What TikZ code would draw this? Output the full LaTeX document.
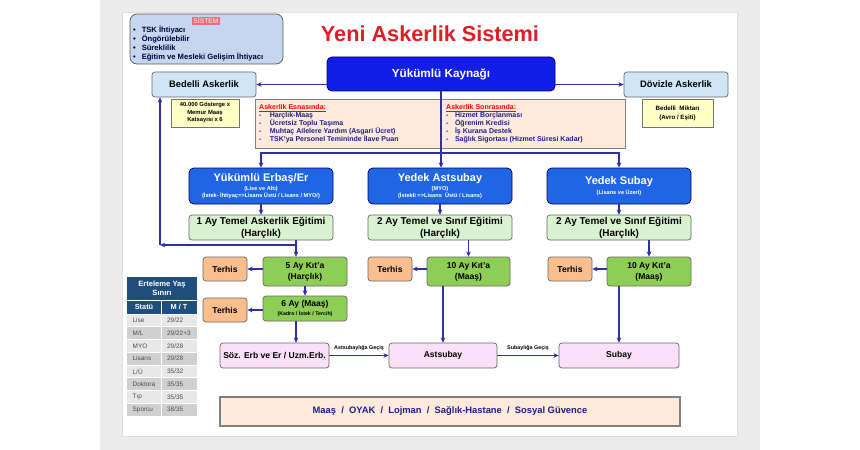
\documentclass[tikz,border=0pt]{standalone}
\usepackage{fontspec}
\setmainfont{Liberation Sans}
\usetikzlibrary{arrows.meta}
\usepackage{xcolor}

\definecolor{baslikkirmizi}{RGB}{226,28,38}
\definecolor{koyumavi}{RGB}{18,30,232}
\definecolor{mavi}{RGB}{32,102,228}
\definecolor{acikmavi}{RGB}{207,230,247}
\definecolor{sistemmavi}{RGB}{198,214,238}
\definecolor{sistemkirmizi}{RGB}{236,108,124}
\definecolor{sari}{RGB}{255,255,198}
\definecolor{seftali}{RGB}{253,234,218}
\definecolor{acikyesil}{RGB}{217,242,208}
\definecolor{yesil}{RGB}{143,206,86}
\definecolor{turuncu}{RGB}{249,190,142}
\definecolor{pembe}{RGB}{251,224,249}
\definecolor{lacivert}{RGB}{31,78,126}
\definecolor{satira}{RGB}{232,232,232}
\definecolor{satirb}{RGB}{208,208,208}
\definecolor{okrengi}{RGB}{48,48,160}
\definecolor{yazimavi}{RGB}{30,30,140}
\definecolor{cerceve}{RGB}{236,236,236}

\tikzset{
  wh/.style 2 args={minimum width=#1*0.03cm, minimum height=#2*0.03cm},
  kutu/.style={draw=black!60, line width=0.6pt, rounded corners=2.5pt, align=center, inner sep=0pt, font=\bfseries},
  kaynakkutu/.style={kutu, fill=koyumavi, draw=blue!40!black, text=white, rounded corners=4pt},
  mavikutu/.style={kutu, fill=mavi, draw=blue!30!black, text=white, rounded corners=4pt,
    font=\fontsize{4.8}{5.4}\selectfont\bfseries},
  acikkutu/.style={kutu, fill=acikmavi, font=\fontsize{8}{9}\selectfont\bfseries},
  sarikutu/.style={kutu, fill=sari, rounded corners=0pt, draw=black!55},
  egitimkutu/.style={kutu, fill=acikyesil, font=\fontsize{8.5}{10.2}\selectfont\bfseries},
  kitakutu/.style={kutu, fill=yesil, font=\fontsize{7.3}{9.4}\selectfont\bfseries},
  terhiskutu/.style={kutu, fill=turuncu, font=\fontsize{7.3}{9}\selectfont\bfseries},
  pembekutu/.style={kutu, fill=pembe, font=\fontsize{7.3}{9}\selectfont\bfseries},
  liste/.style={anchor=west, align=left, inner sep=0pt, text=yazimavi, font=\fontsize{6}{6.9}\selectfont\bfseries},
  gecis/.style={above=0.3pt, text=black, font=\fontsize{4.6}{5}\selectfont\bfseries},
  arr/.style={draw=okrengi, line width=0.9pt, -{Stealth[length=4.5pt,width=4pt]}},
}

\begin{document}
\begin{tikzpicture}[x=0.03cm,y=-0.03cm]
  % Page and slide frame
  \useasboundingbox (0,0) rectangle (860,450);
  \fill[white] (0,0) rectangle (860,450);
  \fill[cerceve] (100,0) rectangle (760,450);
  \filldraw[fill=white, draw=black!12] (122,12) rectangle (737,436);

  % Title
  \node[font=\fontsize{18.5}{20}\selectfont\bfseries, text=baslikkirmizi] (baslik) at (430,33.5) {Yeni Askerlik Sistemi};

  % Sistem box
  \node[kutu, fill=sistemmavi, draw=black!65, rounded corners=6pt, wh={153}{50}] (sistem) at (206.5,39) {};
  \node[fill=sistemkirmizi, text=white!80!red, font=\fontsize{5.8}{6}\selectfont\bfseries, inner sep=0.8pt] (sistembaslik) at (206,21) {SİSTEM};
  \node[anchor=west, align=left, inner sep=0pt, text=black!80!blue, font=\fontsize{6.5}{7.8}\selectfont\bfseries] (sistemliste) at (133,43.5)
    {\textbullet\hspace{5pt}TSK İhtiyacı\\ \textbullet\hspace{5pt}Öngörülebilir\\ \textbullet\hspace{5pt}Süreklilik\\ \textbullet\hspace{5pt}Eğitim ve Mesleki Gelişim İhtiyacı};

  % Top row
  \node[kaynakkutu, wh={228}{34}, font=\fontsize{10}{11}\selectfont\bfseries] (kaynak) at (441,74) {Yükümlü Kaynağı};
  \node[acikkutu, wh={104}{25}] (bedelli) at (204,84.5) {Bedelli Askerlik};
  \node[acikkutu, wh={104}{25}] (doviz) at (676,84.5) {Dövizle Askerlik};
  \node[sarikutu, wh={68}{28}, font=\fontsize{5}{6.4}\selectfont\bfseries] (gosterge) at (205,113) {40.000 Gösterge x\\Memur Maaş\\Katsayısı x 6};
  \node[sarikutu, wh={71}{28}, font=\fontsize{5.3}{7.6}\selectfont\bfseries] (miktar) at (677.5,113) {Bedelli\ \ Miktarı\\(Avro / Eşiti)};

  % Haklar box
  \node[draw=black!50, line width=0.6pt, fill=seftali, wh={370}{49}] (haklar) at (440,123.5) {};
  \node[liste] (esnasinda) at (259,123.5)
    {\textcolor{red}{\underline{Askerlik Esnasında:}}\\
     \makebox[9pt][l]{-}Harçlık-Maaş\\
     \makebox[9pt][l]{-}Ücretsiz Toplu Taşıma\\
     \makebox[9pt][l]{-}Muhtaç Ailelere Yardım (Asgari Ücret)\\
     \makebox[9pt][l]{-}TSK'ya Personel Temininde İlave Puan};
  \node[liste] (sonrasinda) at (446,123.5)
    {\textcolor{red}{\underline{Askerlik Sonrasında:}}\\
     \makebox[7.5pt][l]{-}Hizmet Borçlanması\\
     \makebox[7.5pt][l]{-}Öğrenim Kredisi\\
     \makebox[7.5pt][l]{-}İş Kurana Destek\\
     \makebox[7.5pt][l]{-}Sağlık Sigortası (Hizmet Süresi Kadar)};

  % Kategoriler
  \node[mavikutu, wh={144}{36}] (erbas) at (261,186)
    {{\fontsize{9.4}{10}\selectfont Yükümlü Erbaş/Er}\\[1.5pt](Lise ve Altı)\\(İstek- İhtiyaç=>Lisans Üstü / Lisans / MYO/)};
  \node[mavikutu, wh={144}{36}] (yastsubay) at (440,186)
    {{\fontsize{9.4}{10}\selectfont Yedek Astsubay}\\[1.5pt](MYO)\\(İstekli =>Lisans\ \ Üstü / Lisans)};
  \node[mavikutu, wh={144}{36}] (ysubay) at (619,186)
    {{\fontsize{9.4}{10}\selectfont Yedek Subay}\\[1.5pt](Lisans ve Üzeri)};

  % Egitim
  \node[egitimkutu, wh={144}{25}] (egitim1) at (261,227.5) {1 Ay Temel Askerlik Eğitimi\\(Harçlık)};
  \node[egitimkutu, wh={144}{25}] (egitim2) at (440,227.5) {2 Ay Temel ve Sınıf Eğitimi\\(Harçlık)};
  \node[egitimkutu, wh={144}{25}] (egitim3) at (619,227.5) {2 Ay Temel ve Sınıf Eğitimi\\(Harçlık)};

  % Kit'a
  \node[kitakutu, wh={84}{29}] (kita5) at (305,271.5) {5 Ay Kıt'a\\(Harçlık)};
  \node[kitakutu, wh={84}{25}, font=\fontsize{4.5}{7.7}\selectfont\bfseries] (alti) at (305,308.5)
    {{\fontsize{7.3}{8}\selectfont 6 Ay (Maaş)}\\(Kadro / İstek / Tercih)};
  \node[kitakutu, wh={83}{29}] (kita10a) at (468.5,271.5) {10 Ay Kıt'a\\(Maaş)};
  \node[kitakutu, wh={84}{29}] (kita10b) at (649,271.5) {10 Ay Kıt'a\\(Maaş)};

  % Terhis
  \node[terhiskutu, wh={44}{24}] (terhis1) at (225,269) {Terhis};
  \node[terhiskutu, wh={44}{24}] (terhis2) at (225,310) {Terhis};
  \node[terhiskutu, wh={44}{24}] (terhis3) at (390,269) {Terhis};
  \node[terhiskutu, wh={44}{24}] (terhis4) at (570,269) {Terhis};

  % Kadrolar
  \node[pembekutu, wh={109}{25}] (soz) at (274.5,355.5) {Söz. Erb ve Er / Uzm.Erb.};
  \node[pembekutu, wh={108}{25}] (astsubay) at (443,355.5) {Astsubay};
  \node[pembekutu, wh={120}{25}] (subay) at (619,355.5) {Subay};

  % Bottom bar
  \node[draw=black!50, line width=0.9pt, fill=seftali, wh={460}{29}, text=yazimavi, font=\fontsize{8}{9}\selectfont\bfseries] (imkanlar) at (450,411.5)
    {Maaş\ \ /\ \ OYAK\ \ /\ \ Lojman\ \ /\ \ Sağlık-Hastane\ \ /\ \ Sosyal Güvence};

  % Erteleme table
  \fill[lacivert] (127,277) rectangle (197,314);
  \draw[white, line width=0.6pt] (127,300) -- (197,300) (161,300) -- (161,314);
  \node[text=white, align=center, font=\fontsize{6.5}{7.5}\selectfont\bfseries] (erteleme) at (162,288.5) {Erteleme Yaş\\Sınırı};
  \node[text=white, font=\fontsize{6.3}{7}\selectfont\bfseries] (statu) at (144,307) {Statü};
  \node[text=white, font=\fontsize{6.3}{7}\selectfont\bfseries] (mt) at (179,307) {M / T};
  \foreach \ad/\yas/\renk [count=\i] in {Lise/{29/22}/satira, {M/L}/{29/22+3}/satirb, MYO/{29/28}/satira,
      Lisans/{29/28}/satirb, {L/Ü}/{35/32}/satira, Doktora/{35/35}/satirb, Tıp/{35/35}/satira, Sporcu/{38/35}/satirb}
  {
    \pgfmathsetmacro\ust{314+(\i-1)*12.75}
    \fill[\renk] (127,\ust) rectangle (197,\ust+12.75);
    \draw[white, line width=0.6pt] (127,\ust) -- (197,\ust) (161,\ust) -- (161,\ust+12.75);
    \node[anchor=west, text=black!70, font=\fontsize{5.5}{6}\selectfont] (durum\i) at (128.5,\ust+6.4) {\ad};
    \node[anchor=west, text=black!70, font=\fontsize{5.5}{6}\selectfont] (yas\i) at (163,\ust+6.4) {\yas};
  }

  % Arrows from Yukumlu Kaynagi
  \draw[arr] (kaynak.west |- bedelli) -- (bedelli.east);
  \draw[arr] (kaynak.east |- doviz) -- (doviz.west);
  \draw[arr] (kaynak.south) -- (kaynak.south |- yastsubay.north);
  \coordinate (dal) at (kaynak.south |- 0,153);
  \draw[arr] (dal) -| (erbas.north);
  \draw[arr] (dal) -| (ysubay.north);

  % Into training
  \foreach \ust/\alt in {erbas/egitim1, yastsubay/egitim2, ysubay/egitim3}
    \draw[arr] (\ust.south) -- (\alt.north);

  % Erbas branch and return to Bedelli
  \coordinate (inis) at (296,245);
  \coordinate (kose) at (160,245);
  \draw[arr] (egitim1.south -| inis) -- (kita5.north -| inis);
  \draw[arr] (egitim1.south -| inis) |- (kose);
  \draw[arr] (kose) -- (kose |- bedelli.south);
  \draw[arr] (kita5.south) -- (alti.north);
  \draw[arr] (alti.south -| inis) -- (soz.north -| inis);

  % Astsubay and Subay branches
  \draw[arr] (egitim2.south -| kita10a) -- (kita10a.north);
  \draw[arr] (egitim3.south -| kita10b) -- (kita10b.north);
  \draw[arr] (kita10a.south -| astsubay) -- (astsubay.north);
  \draw[arr] (kita10b.south -| subay) -- (subay.north);

  % Terhis
  \draw[arr] (kita5.west |- terhis1) -- (terhis1.east);
  \draw[arr] (alti.west |- terhis2) -- (terhis2.east);
  \draw[arr] (kita10a.west |- terhis3) -- (terhis3.east);
  \draw[arr] (kita10b.west |- terhis4) -- (terhis4.east);

  % Gecisler
  \draw[arr] (soz.east) -- node[gecis] (gecis1) {Astsubaylığa Geçiş} (astsubay.west);
  \draw[arr] (astsubay.east) -- node[gecis] (gecis2) {Subaylığa Geçiş} (subay.west);
\end{tikzpicture}
\end{document}
